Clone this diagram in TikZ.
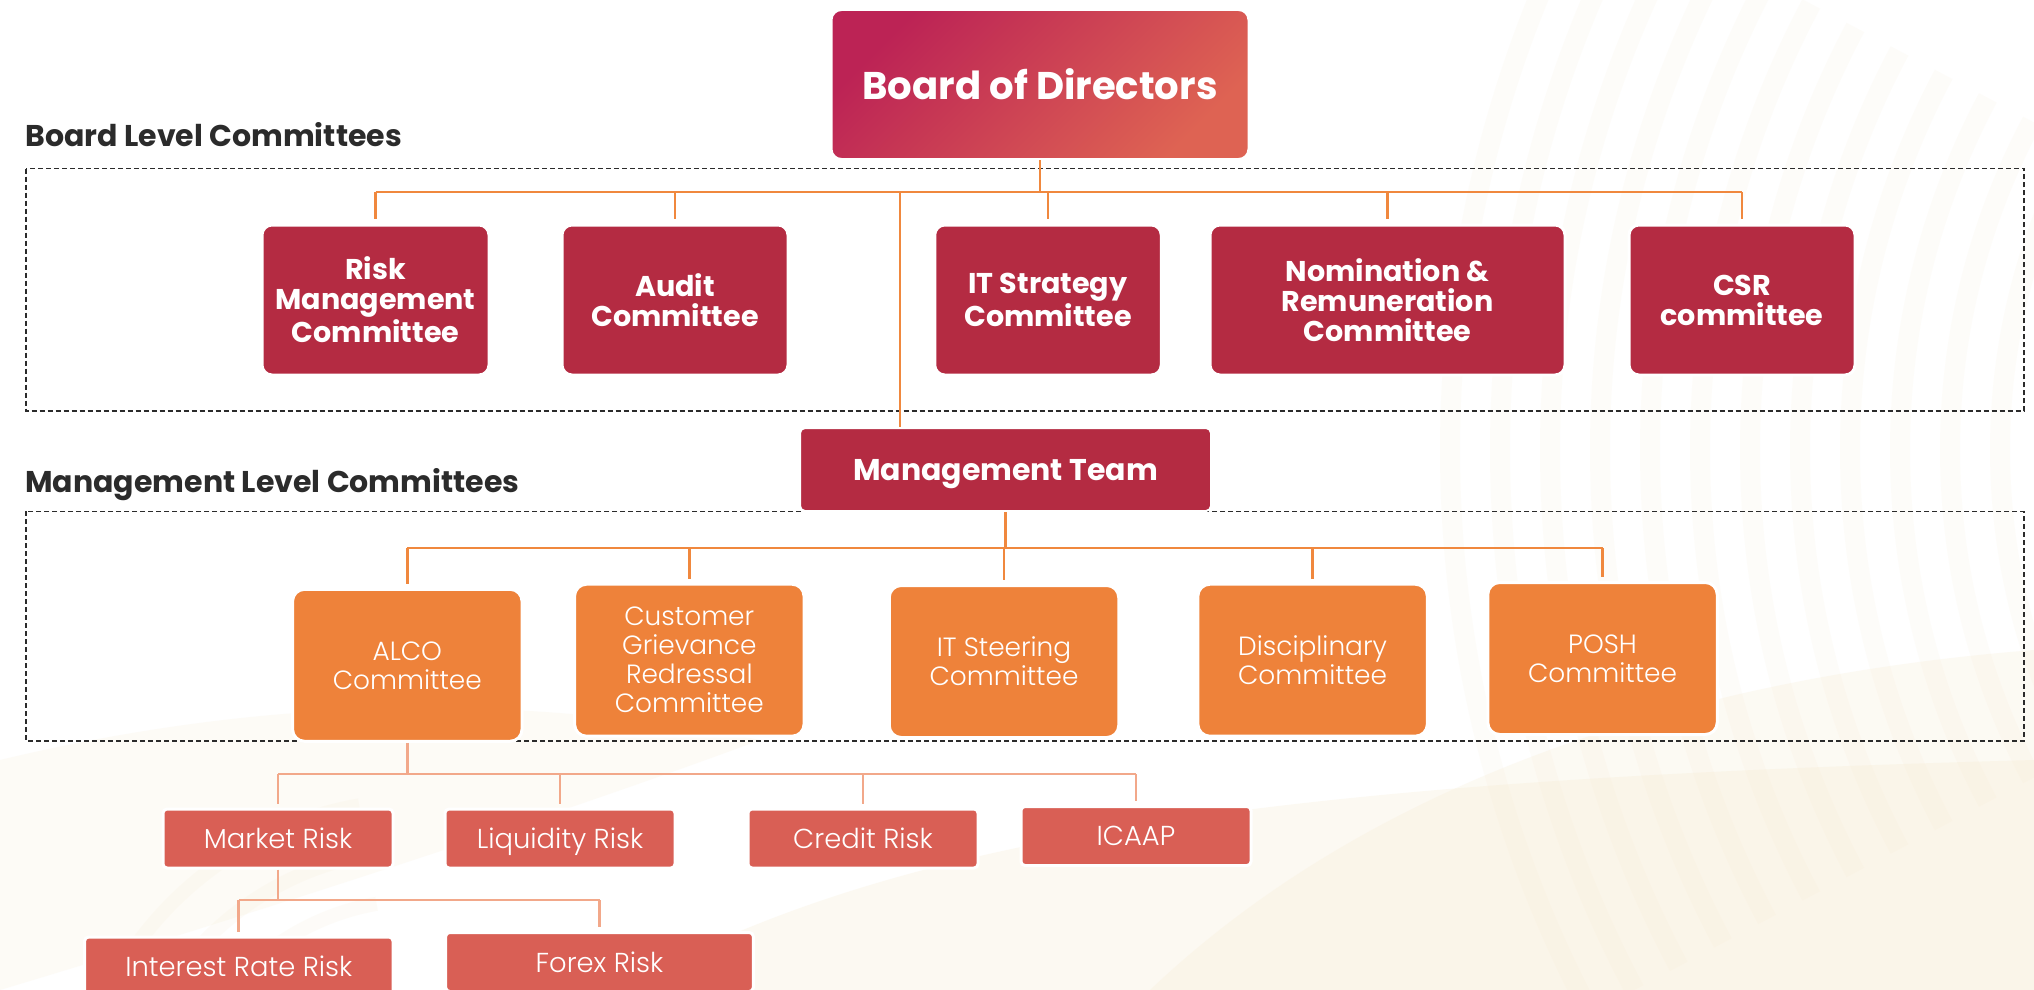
\documentclass[tikz,border=0pt]{standalone}
\usepackage{fontspec}
\setmainfont{Poppins}
\IfFontExistsTF{Poppins Light}{\newfontfamily\lightf{Poppins Light}}{\newfontfamily\lightf{Poppins}}
\definecolor{boardred}{HTML}{B42B42}
\definecolor{mgmtorange}{HTML}{EE823A}
\definecolor{riskcoral}{HTML}{D95F55}
\definecolor{connorange}{HTML}{F0883E}
\definecolor{connsalmon}{HTML}{F2A88A}
\definecolor{labelgray}{HTML}{2B2B2B}
\definecolor{bodtop}{HTML}{BC2355}
\definecolor{bodbot}{HTML}{DE6353}
\definecolor{cream}{HTML}{F4E6C6}
\begin{document}
\begin{tikzpicture}[x=0.5pt,y=-0.5pt,
  boardbox/.style={rounded corners=5pt, fill=boardred, draw=white, line width=1.5pt,
    text=white, align=center, inner sep=0pt, minimum height=75pt,
    font=\bfseries\fontsize{14.3}{15}\selectfont},
  bodbox/.style={rounded corners=5pt, draw=white, line width=1pt, top color=bodtop,
    bottom color=bodbot, shading angle=45, text=white, inner sep=0pt, text depth=0pt,
    minimum width=208.5pt, minimum height=74.5pt, font=\bfseries\fontsize{19.3}{22}\selectfont},
  mtbox/.style={rounded corners=2.5pt, fill=boardred, draw=white, line width=1pt,
    text=white, inner sep=0pt, text depth=0pt, minimum width=205.5pt, minimum height=41.5pt,
    font=\bfseries\fontsize{15}{17}\selectfont},
  mgmtbox/.style={rounded corners=6pt, fill=mgmtorange, draw=white, line width=1.5pt,
    text=white, align=center, inner sep=0pt, minimum width=114.75pt, minimum height=76pt,
    font=\lightf\fontsize{13.2}{14.5}\selectfont},
  riskbox/.style={rounded corners=2pt, fill=riskcoral, draw=white, line width=1.5pt,
    text=white, align=center, inner sep=0pt, text depth=0pt, minimum width=115pt, minimum height=29.5pt,
    font=\lightf\fontsize{13.7}{15}\selectfont},
  seclabel/.style={anchor=base west, inner sep=0pt, text=labelgray,
    font=\bfseries\fontsize{15}{17}\selectfont},
  dashbox/.style={draw=labelgray, line width=0.6pt, dash pattern=on 2.5pt off 1.5pt},
  conO/.style={draw=connorange, line width=1.4pt},
  conS/.style={draw=connsalmon, line width=1.4pt}
]
\useasboundingbox (0,0) rectangle (2034,990);
\clip (0,0) rectangle (2034,990);
\fill[white] (0,0) rectangle (2034,990);
% faint background swirls
\foreach \r in {600,650,...,1200} {
  \draw[cream, opacity=0.1, line width=10pt] (2650,450) ++(-152:\r) arc (-152:-208:\r);
}
\fill[cream, opacity=0.2] (1150,990) .. controls (1350,800) and (1650,680) .. (2034,650) -- (2034,990) -- cycle;
\fill[cream, opacity=0.22] (620,990) .. controls (900,830) and (1300,780) .. (2034,760) -- (2034,990) -- cycle;
\fill[cream, opacity=0.15] (0,760) .. controls (250,700) and (500,690) .. (760,740) .. controls (600,800) and (300,900) .. (0,990) -- cycle;
\foreach \r in {200,250,300,350} {
  \draw[cream, opacity=0.12, line width=7pt] (420,1150) ++(-100:\r) arc (-100:-160:\r);
}

% dashed frames
\draw[dashbox] (26,168.6) rectangle (2024,411);
\draw[dashbox] (26,511.4) rectangle (2024,741);

% section labels
\node[seclabel] (lblBoard) at (25,146.7) {Board Level Committees};
\node[seclabel] (lblMgmt) at (25,492.2) {Management Level Committees};

% nodes
\node[bodbox] (bod) at (1040,84.5) {Board of Directors};

\node[boardbox, minimum width=113.5pt] (risk) at (375.5,300) {Risk\\Management\\Committee};
\node[boardbox, minimum width=113pt] (audit) at (675,300) {Audit\\Committee};
\node[boardbox, minimum width=113.25pt] (itstrat) at (1048,300) {IT Strategy\\Committee};
\node[boardbox, minimum width=177.5pt] (nomin) at (1387.5,300) {Nomination \&\\Remuneration\\Committee};
\node[boardbox, minimum width=113pt] (csr) at (1742,300) {CSR\\committee};

\node[mtbox] (mt) at (1005.5,469.5) {Management Team};

\node[mgmtbox] (alco) at (407.3,665.3) {ALCO\\Committee};
\node[mgmtbox] (cgrc) at (689.3,660.2) {Customer\\Grievance\\Redressal\\Committee};
\node[mgmtbox] (itsteer) at (1004,661.5) {IT Steering\\Committee};
\node[mgmtbox] (disc) at (1312.6,660.2) {Disciplinary\\Committee};
\node[mgmtbox] (posh) at (1602.5,658.5) {POSH\\Committee};

\node[riskbox] (market) at (278,838.5) {Market Risk};
\node[riskbox] (liquid) at (560,838.5) {Liquidity Risk};
\node[riskbox] (credit) at (863,838.5) {Credit Risk};
\node[riskbox] (icaap) at (1136,836) {ICAAP};
\node[riskbox, minimum width=154.2pt] (irr) at (238.8,966.5) {Interest Rate Risk};
\node[riskbox, minimum width=153.85pt] (forex) at (599.5,962) {Forex Risk};

% connectors
\coordinate (busA) at (0,192);
\coordinate (jMT) at (900,192);
\coordinate (busB) at (0,548);
\coordinate (busC) at (0,774);
\coordinate (busD) at (0,900);

\draw[conO] (bod.south) -- (bod.south |- busA);
\draw[conO] (risk.north |- busA) -- (csr.north |- busA);
\foreach \n in {risk,audit,itstrat,nomin,csr}
  \draw[conO, shorten >=2.5pt] (\n.north |- busA) -- (\n.north);
\draw[conO] (jMT) -- (jMT |- mt.north);

\draw[conO] (mt.south) -- (mt.south |- busB);
\draw[conO] (alco.north |- busB) -- (posh.north |- busB);
\foreach \n in {alco,cgrc,itsteer,disc,posh}
  \draw[conO, shorten >=2pt] (\n.north |- busB) -- (\n.north);

\draw[conS] (alco.south) -- (alco.south |- busC);
\draw[conS] (market.north |- busC) -- (icaap.north |- busC);
\foreach \n in {market,liquid,credit,icaap}
  \draw[conS, shorten >=2pt] (\n.north |- busC) -- (\n.north);

\draw[conS] (market.south) -- (market.south |- busD);
\draw[conS] (irr.north |- busD) -- (forex.north |- busD);
\foreach \n in {irr,forex}
  \draw[conS, shorten >=2pt] (\n.north |- busD) -- (\n.north);
\end{tikzpicture}
\end{document}
